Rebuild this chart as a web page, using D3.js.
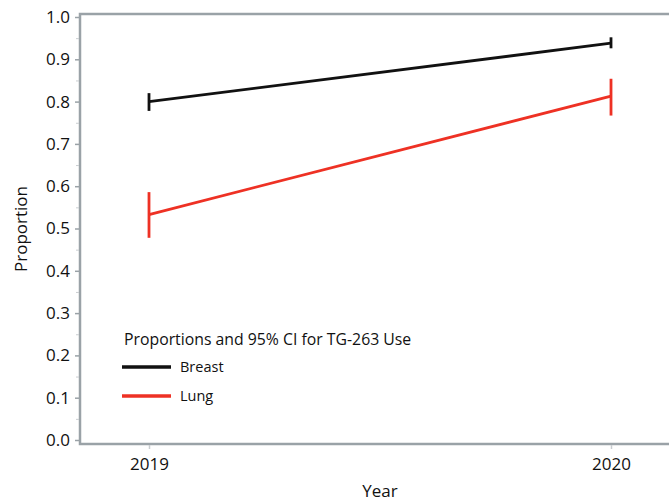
<!DOCTYPE html>
<html>
<head>
<meta charset="utf-8">
<script src="https://cdn.jsdelivr.net/npm/d3@7"></script>
<style>
  html, body { margin: 0; padding: 0; background: #fff; }
  svg { display: block; }
  text { font-family: "Open Sans", "Noto Sans", sans-serif; fill: #111; }
</style>
</head>
<body>
<svg id="chart" width="669" height="501"></svg>
<script>
// Proportions of TG-263 use by year, with 95% confidence intervals
const years = [2019, 2020];
const seriesNames = ["Breast", "Lung"];
const breastValues = [0.800, 0.938];
const breastLower  = [0.778, 0.926];
const breastUpper  = [0.820, 0.952];
const lungValues   = [0.533, 0.813];
const lungLower    = [0.478, 0.767];
const lungUpper    = [0.586, 0.854];
const yTicks = [0, 0.1, 0.2, 0.3, 0.4, 0.5, 0.6, 0.7, 0.8, 0.9, 1.0];
const yMinorTicks = [0.05, 0.15, 0.25, 0.35, 0.45, 0.55, 0.65, 0.75, 0.85, 0.95];
const seriesColors = ["#111111", "#ee3124"];
const legendTitle = "Proportions and 95% CI for TG-263 Use";

const series = [
  { name: seriesNames[0], values: breastValues, lower: breastLower, upper: breastUpper, color: seriesColors[0] },
  { name: seriesNames[1], values: lungValues, lower: lungLower, upper: lungUpper, color: seriesColors[1] }
];

const svg = d3.select("#chart");
const frame = { left: 80, top: 14, right: 700, bottom: 444 };
const axisColor = "#9aa2a7";

const x = d3.scaleLinear().domain([2019, 2020]).range([149, 611]);
const y = d3.scaleLinear().domain([0, 1]).range([440, 17]);

// plot frame
svg.append("rect")
  .attr("x", frame.left).attr("y", frame.top)
  .attr("width", frame.right - frame.left).attr("height", frame.bottom - frame.top)
  .attr("fill", "none").attr("stroke", axisColor).attr("stroke-width", 2.5);

// y axis: major ticks with labels, minor ticks without
const yAxis = svg.append("g").attr("transform", `translate(${frame.left - 1},0)`)
  .call(d3.axisLeft(y).tickValues(yTicks).tickFormat(d3.format(".1f")).tickSize(4).tickPadding(5));
yAxis.select(".domain").remove();
yAxis.selectAll(".tick line").attr("stroke", axisColor).attr("stroke-width", 1.5);
yAxis.selectAll(".tick text").style("font-size", "17px").attr("fill", "#111");

const yMinor = svg.append("g").attr("transform", `translate(${frame.left - 1},0)`)
  .call(d3.axisLeft(y).tickValues(yMinorTicks).tickFormat("").tickSize(3));
yMinor.select(".domain").remove();
yMinor.selectAll(".tick line").attr("stroke", "#c9cdd0").attr("stroke-width", 1);

// x axis
const xAxis = svg.append("g").attr("transform", `translate(0,${frame.bottom + 1})`)
  .call(d3.axisBottom(x).tickValues(years).tickFormat(d3.format("d")).tickSize(4).tickPadding(9));
xAxis.select(".domain").remove();
xAxis.selectAll(".tick line").attr("stroke", "#c9cdd0").attr("stroke-width", 1.5);
xAxis.selectAll(".tick text").style("font-size", "17px").attr("fill", "#111");

// axis titles
svg.append("text")
  .attr("transform", `translate(27,${(frame.top + frame.bottom) / 2}) rotate(-90)`)
  .attr("text-anchor", "middle").style("font-size", "17px").text("Proportion");
svg.append("text")
  .attr("x", 380).attr("y", 497)
  .attr("text-anchor", "middle").style("font-size", "17px").text("Year");

// series lines and confidence-interval bars
const line = d3.line().x((d, i) => x(years[i])).y(d => y(d));
series.forEach(s => {
  svg.append("path")
    .datum(s.values)
    .attr("d", line)
    .attr("fill", "none").attr("stroke", s.color).attr("stroke-width", 2.8);
  svg.selectAll(null)
    .data(years)
    .enter().append("line")
    .attr("x1", d => x(d)).attr("x2", d => x(d))
    .attr("y1", (d, i) => y(s.lower[i])).attr("y2", (d, i) => y(s.upper[i]))
    .attr("stroke", s.color).attr("stroke-width", 2.8);
});

// legend
const legend = svg.append("g");
legend.append("text").attr("x", 124).attr("y", 345).style("font-size", "15.8px").text(legendTitle);
series.forEach((s, i) => {
  const ly = 367 + i * 29;
  legend.append("line")
    .attr("x1", 122).attr("x2", 171).attr("y1", ly).attr("y2", ly)
    .attr("stroke", s.color).attr("stroke-width", 3.5);
  legend.append("text").attr("x", 180).attr("y", ly + 5).style("font-size", "14.5px").text(s.name);
});
</script>
</body>
</html>
